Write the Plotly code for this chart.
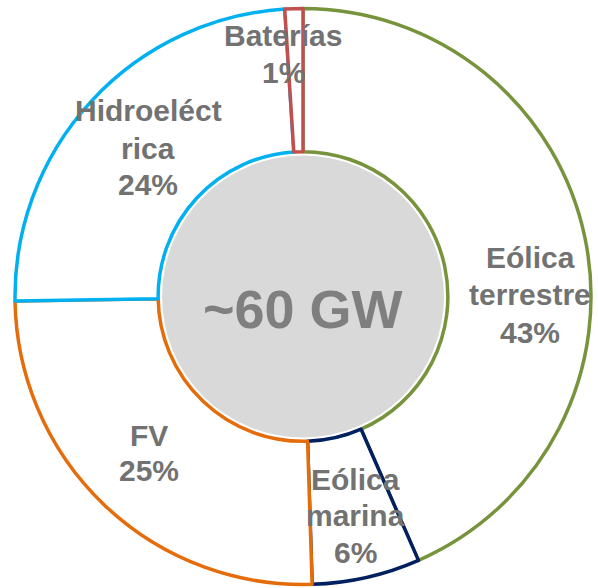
import plotly.graph_objects as go

# ---- data ----
categories = ["Eólica terrestre", "Eólica marina", "FV", "Hidroeléctrica", "Baterías"]
shares = [43, 6, 25, 24, 1]
label_lines = [
    ["Eólica", "terrestre", "43%"],
    ["Eólica", "marina", "6%"],
    ["FV", "25%"],
    ["Hidroeléct", "rica", "24%"],
    ["Baterías", "1%"],
]
center_label = "~60 GW"
center_value = [60]

# ---- style ----
W, H = 598, 588
outline_colors = ["#77933C", "#002060", "#E46C0A", "#00B0F0", "#C0504D"]
label_color = "#727272"
center_color = "#7F7F7F"
FONT = "Liberation Sans, Arial, sans-serif"

# label anchor (x center px, baseline px of first line, line step px)
label_pos = [
    (530, 269, 37),
    (355, 490, 36.5),
    (149, 446, 36),
    (148, 122, 37),
    (283, 47, 36),
]


def px_dom(cx, cy, r):
    return dict(x=[(cx - r) / W, (cx + r) / W],
                y=[1 - (cy + r) / H, 1 - (cy - r) / H])


fig = go.Figure()
fig.add_trace(go.Pie(
    labels=categories,
    values=shares,
    hole=0.503,
    sort=False,
    direction="clockwise",
    rotation=0,
    textinfo="none",
    hoverinfo="skip",
    marker=dict(colors=["#FFFFFF"] * len(categories),
                line=dict(color=outline_colors, width=3.5)),
    domain=px_dom(303, 296.5, 288),
    showlegend=False,
))
fig.add_trace(go.Pie(
    labels=[center_label],
    values=center_value,
    sort=False,
    textinfo="none",
    hoverinfo="skip",
    marker=dict(colors=["#D9D9D9"], line=dict(width=0)),
    domain=px_dom(303, 296.5, 141),
    showlegend=False,
))

annotations = []
for lines, (cx, base, step) in zip(label_lines, label_pos):
    for i, t in enumerate(lines):
        yb = base + i * step
        annotations.append(dict(
            text=t, x=cx / W, y=1 - (yb - 11) / H, xref="paper", yref="paper",
            xanchor="center", yanchor="middle", showarrow=False,
            font=dict(family=FONT, size=30, color=label_color, weight="bold"),
        ))
annotations.append(dict(
    text=center_label, x=303 / W, y=1 - 308.5 / H, xref="paper", yref="paper",
    xanchor="center", yanchor="middle", showarrow=False,
    font=dict(family=FONT, size=54, color=center_color, weight="bold"),
))

fig.update_layout(
    width=W, height=H,
    margin=dict(l=0, r=0, t=0, b=0),
    paper_bgcolor="white",
    plot_bgcolor="white",
    annotations=annotations,
)
fig.write_html("out.html",
               config={"displayModeBar": False},
               post_script="document.body.style.margin='0';"
                           "document.body.style.overflow='hidden';")
